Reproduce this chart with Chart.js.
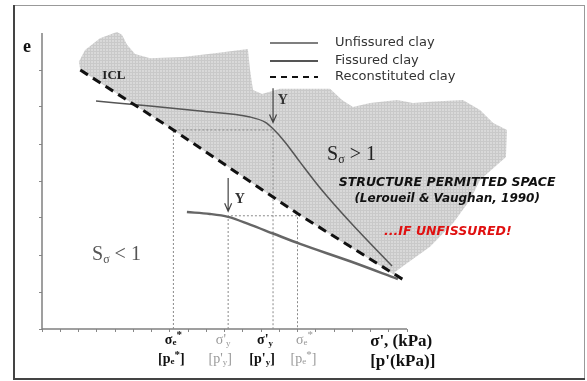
<!DOCTYPE html>
<html>
<head>
<meta charset="utf-8">
<script src="https://cdn.jsdelivr.net/npm/chart.js@4.4.1/dist/chart.umd.min.js"></script>
<style>
  html, body { margin: 0; padding: 0; background: #fff; }
</style>
</head>
<body>
<canvas id="chart1" width="587" height="381"></canvas>
<script>
// e - sigma' schematic: unfissured / fissured / reconstituted clay

// ICL (reconstituted clay)
const iclX = [1.05, 3.6, 7.0, 10.0];
const iclE = [7.0, 5.38, 3.12, 1.27];

// unfissured clay
const unfisX = [1.48, 2.96, 4.33, 5.70, 6.11, 6.33, 6.66, 7.07, 7.62, 8.44, 9.59];
const unfisE = [6.16, 6.03, 5.89, 5.73, 5.59, 5.41, 5.05, 4.51, 3.81, 2.89, 1.70];

// fissured clay
const fisX = [3.97, 4.60, 5.10, 5.70, 6.33, 7.07, 8.44, 9.75];
const fisE = [3.16, 3.11, 3.03, 2.82, 2.58, 2.30, 1.83, 1.35];

// upper edge of the structure permitted space (closed back along the ICL)
const spaceX = [1.05, 1.01, 1.18, 1.59, 2.05, 2.19, 2.33, 2.55, 2.96, 3.86, 4.79, 5.64, 5.70, 5.78, 6.03, 6.52,
                7.89, 8.22, 8.52, 8.99, 9.73, 10.16, 10.63, 11.53, 12.0, 12.36, 12.74, 12.71, 12.0, 11.73, 11.26,
                10.63, 10.0, 9.67, 9.67];
const spaceE = [7.0, 7.22, 7.54, 7.86, 8.03, 7.95, 7.68, 7.43, 7.32, 7.35, 7.46, 7.57, 7.0, 6.46, 6.35, 6.49,
                6.49, 6.19, 6.0, 6.11, 6.19, 6.11, 6.14, 6.19, 5.92, 5.57, 5.38, 4.65, 4.03, 3.49, 2.86,
                2.22, 1.78, 1.54, 1.45];

// yield points and equivalent stresses on the ICL  [sigma', e]
const yieldUnfis = [6.33, 5.38];
const sigmaEUnfis = 3.6;
const yieldFis = [5.10, 3.06];
const sigmaEFis = 7.0;

const pts = (xs, ys) => xs.map((x, i) => ({ x: x, y: ys[i] }));

// closed outline: upper edge, then ICL back to the start
const spacePts = pts(spaceX, spaceE).concat(
  pts(iclX, iclE).filter(p => p.x < spaceX[spaceX.length - 1]).reverse()
);

// fine grid texture like the scanned figure
const tile = document.createElement('canvas');
tile.width = 3; tile.height = 3;
const tctx = tile.getContext('2d');
tctx.fillStyle = '#d9d9d9'; tctx.fillRect(0, 0, 3, 3);
tctx.fillStyle = '#c9c9c9'; tctx.fillRect(0, 0, 3, 1); tctx.fillRect(0, 0, 1, 3);
const grey = tctx.createPattern(tile, 'repeat');

function rich(ctx, parts, x, y, align, color) {
  let w = 0;
  parts.forEach(p => { ctx.font = p[2] + ' ' + p[1] + 'px "Liberation Serif"'; w += ctx.measureText(p[0]).width; });
  let cx = align === 'center' ? x - w / 2 : x;
  ctx.fillStyle = color;
  ctx.textAlign = 'left';
  ctx.textBaseline = 'middle';
  parts.forEach(p => {
    ctx.font = p[2] + ' ' + p[1] + 'px "Liberation Serif"';
    ctx.fillText(p[0], cx, y + p[3]);
    cx += ctx.measureText(p[0]).width;
  });
}

function arrow(ctx, x, y1, y2) {
  ctx.strokeStyle = '#444';
  ctx.lineWidth = 1.2;
  ctx.beginPath();
  ctx.moveTo(x, y1); ctx.lineTo(x, y2);
  ctx.moveTo(x - 3.5, y2 - 8); ctx.lineTo(x, y2); ctx.lineTo(x + 3.5, y2 - 8);
  ctx.stroke();
}

const annotations = {
  id: 'annotations',
  beforeDraw(chart) {
    const ctx = chart.ctx;
    ctx.save();
    ctx.fillStyle = '#fff';
    ctx.fillRect(0, 0, chart.width, chart.height);
    ctx.restore();
  },
  afterDatasetsDraw(chart) {
    const ctx = chart.ctx, sx = chart.scales.x, sy = chart.scales.y;
    const X = v => sx.getPixelForValue(v), Y = v => sy.getPixelForValue(v);
    ctx.save();

    // frame
    ctx.strokeStyle = '#999'; ctx.lineWidth = 1;
    ctx.strokeRect(14.5, 5.5, 570, 373);
    ctx.strokeStyle = '#444'; ctx.lineWidth = 2;
    ctx.beginPath();
    ctx.moveTo(14, 5); ctx.lineTo(14, 379); ctx.lineTo(585, 379);
    ctx.stroke();

    // yield arrows
    arrow(ctx, X(yieldUnfis[0]), Y(6.51), Y(5.58));
    arrow(ctx, X(yieldFis[0]), Y(4.08), Y(3.18));

    // legend
    const lx0 = 270, lx1 = 318;
    [[43, [], 1.5, '#555', 'Unfissured clay'],
     [61, [], 2, '#555', 'Fissured clay'],
     [77, [6, 5], 2.2, '#111', 'Reconstituted clay']].forEach(r => {
      ctx.setLineDash(r[1]);
      ctx.strokeStyle = r[3]; ctx.lineWidth = r[2];
      ctx.beginPath(); ctx.moveTo(lx0, r[0]); ctx.lineTo(lx1, r[0]); ctx.stroke();
      ctx.setLineDash([]);
      ctx.fillStyle = '#333';
      ctx.font = '13px "DejaVu Sans"';
      ctx.textAlign = 'left'; ctx.textBaseline = 'middle';
      ctx.fillText(r[4], 335, r[0]);
    });

    // labels inside the plot
    rich(ctx, [['e', 18, 'bold', 0]], X(-0.41), Y(7.62), 'center', '#111');
    rich(ctx, [['ICL', 13, 'bold', 0]], X(1.97), Y(6.86), 'center', '#222');
    rich(ctx, [['Y', 14, 'bold', 0]], X(6.60), Y(6.19), 'center', '#333');
    rich(ctx, [['Y', 14, 'bold', 0]], X(5.42), Y(3.51), 'center', '#333');
    rich(ctx, [['S', 20, 'normal', 0], ['σ', 12, 'normal', 5], [' > 1', 20, 'normal', 0]], X(7.81), Y(4.70), 'left', '#222');
    rich(ctx, [['S', 20, 'normal', 0], ['σ', 12, 'normal', 5], [' < 1', 20, 'normal', 0]], X(1.37), Y(2.0), 'left', '#555');

    ctx.textAlign = 'center'; ctx.textBaseline = 'middle';
    ctx.fillStyle = '#111';
    ctx.font = 'bold italic 12.5px "DejaVu Sans"';
    ctx.fillText('STRUCTURE PERMITTED SPACE', X(11.1), Y(3.95));
    ctx.font = 'bold italic 12px "DejaVu Sans"';
    ctx.fillText('(Leroueil & Vaughan, 1990)', X(11.1), Y(3.51));
    ctx.fillStyle = '#e01010';
    ctx.font = 'bold italic 12.5px "DejaVu Sans"';
    ctx.fillText('...IF UNFISSURED!', X(11.12), Y(2.62));

    // stress labels under the axis
    const r1 = sy.bottom + 11, r2 = sy.bottom + 30;
    const black = '#111', light = '#999';
    rich(ctx, [['σ', 14, 'bold', 0], ['e', 9, 'bold', 3], ['*', 11, 'bold', -5]], X(sigmaEUnfis), r1, 'center', black);
    rich(ctx, [['[p', 14, 'bold', 0], ['e', 9, 'bold', 3], ['*', 11, 'bold', -4], [']', 14, 'bold', 0]], X(sigmaEUnfis) - 2, r2, 'center', black);
    rich(ctx, [["σ'", 14, 'normal', 0], ['y', 9, 'normal', 4]], X(yieldFis[0]) - 5, r1, 'center', light);
    rich(ctx, [["[p'", 14, 'normal', 0], ['y', 9, 'normal', 4], [']', 14, 'normal', 0]], X(yieldFis[0]) - 8, r2, 'center', light);
    rich(ctx, [["σ'", 14, 'bold', 0], ['y', 9, 'bold', 4]], X(yieldUnfis[0]) - 8, r1, 'center', black);
    rich(ctx, [["[p'", 14, 'bold', 0], ['y', 9, 'bold', 4], [']', 14, 'bold', 0]], X(yieldUnfis[0]) - 11, r2, 'center', black);
    rich(ctx, [['σ', 14, 'normal', 0], ['e', 9, 'normal', 3], ['*', 11, 'normal', -5]], X(sigmaEFis) + 7, r1, 'center', light);
    rich(ctx, [['[p', 14, 'normal', 0], ['e', 9, 'normal', 3], ['*', 11, 'normal', -4], [']', 14, 'normal', 0]], X(sigmaEFis) + 6, r2, 'center', light);
    rich(ctx, [["σ', (kPa)", 17, 'bold', 0]], X(8.99), r1 + 2, 'left', black);
    rich(ctx, [["[p'(kPa)]", 17, 'bold', 0]], X(8.99), r2 + 3, 'left', black);

    ctx.restore();
  }
};

const guide = { borderColor: '#8a8a8a', borderWidth: 1, borderDash: [2, 2], showLine: true, pointRadius: 0, tension: 0 };

new Chart(document.getElementById('chart1').getContext('2d'), {
  type: 'scatter',
  data: {
    datasets: [
      {
        label: 'Reconstituted clay',
        data: pts(iclX, iclE),
        showLine: true, borderColor: '#111', borderWidth: 3, borderDash: [9, 6],
        pointRadius: 0, tension: 0, clip: false
      },
      {
        label: 'Unfissured clay',
        data: pts(unfisX, unfisE),
        showLine: true, borderColor: '#555', borderWidth: 1.5,
        pointRadius: 0, cubicInterpolationMode: 'monotone'
      },
      {
        label: 'Fissured clay',
        data: pts(fisX, fisE),
        showLine: true, borderColor: '#666', borderWidth: 2.5,
        pointRadius: 0, cubicInterpolationMode: 'monotone'
      },
      Object.assign({
        data: pts([sigmaEUnfis, sigmaEUnfis, yieldUnfis[0], yieldUnfis[0]], [0, yieldUnfis[1], yieldUnfis[1], 0])
      }, guide),
      Object.assign({
        data: pts([yieldFis[0], yieldFis[0], sigmaEFis, sigmaEFis], [0, yieldFis[1], yieldFis[1], 0])
      }, guide),
      {
        data: pts([0, 0, 10], [8, 0, 0]),
        showLine: true, borderColor: '#808080', borderWidth: 1.5, pointRadius: 0, tension: 0, clip: false
      },
      {
        label: 'Structure permitted space',
        data: spacePts,
        showLine: true, borderWidth: 0, borderColor: 'rgba(0,0,0,0)',
        backgroundColor: grey, fill: 'shape', pointRadius: 0, tension: 0, clip: false
      }
    ]
  },
  options: {
    responsive: false,
    animation: false,
    devicePixelRatio: 1,
    layout: { padding: { left: 42, right: 587 - 42 - 14.2 * 36.5, top: 329 - 8.1 * 37, bottom: 52 } },
    plugins: { legend: { display: false }, tooltip: { enabled: false } },
    scales: {
      x: {
        type: 'linear', min: 0, max: 14.2,
        afterFit: s => { s.height = 0; },
        border: { display: false },
        grid: {
          drawOnChartArea: false, drawTicks: true, tickLength: 3,
          color: c => (c.tick && c.tick.value <= 10) ? '#888' : 'rgba(0,0,0,0)'
        },
        ticks: { display: false, stepSize: 0.5 }
      },
      y: {
        type: 'linear', min: 0, max: 8.1,
        afterFit: s => { s.width = 0; },
        border: { display: false },
        grid: {
          drawOnChartArea: false, drawTicks: true, tickLength: 3,
          color: c => (c.tick && c.tick.value <= 8) ? '#888' : 'rgba(0,0,0,0)'
        },
        ticks: { display: false, stepSize: 1 }
      }
    }
  },
  plugins: [annotations]
});
</script>
</body>
</html>
